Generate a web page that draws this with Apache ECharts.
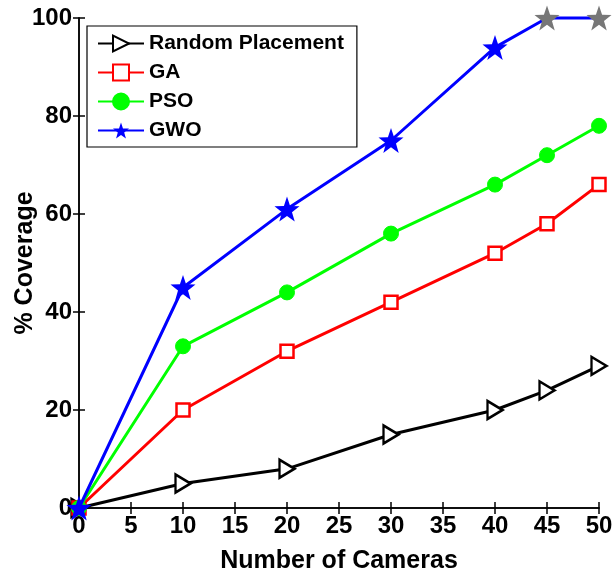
<!DOCTYPE html>
<html><head><meta charset="utf-8">
<script src="https://cdn.jsdelivr.net/npm/echarts@6/dist/echarts.min.js"></script>
<style>html,body{margin:0;padding:0;background:#fff}#c{width:616px;height:578px}</style>
</head><body><div id="c"></div>
<script>
const cameras = [0, 10, 20, 30, 40, 45, 50];
const randomPlacement = [0, 5, 8, 15, 20, 24, 29];
const ga = [0, 20, 32, 42, 52, 58, 66];
const pso = [0, 33, 44, 56, 66, 72, 78];
const gwo = [0, 45, 61, 75, 94, 100, 100];
const xTicks = [0, 5, 10, 15, 20, 25, 30, 35, 40, 45, 50];
const yTicks = [0, 20, 40, 60, 80, 100];

const star = 'path://M0,-10 L2.35,-3.24 L9.51,-3.09 L3.8,1.24 L5.88,8.09 L0,4 L-5.88,8.09 L-3.8,1.24 L-9.51,-3.09 L-2.35,-3.24 Z';
const font = 'Liberation Sans, Arial, sans-serif';
function pts(ys, styleFn) {
  return cameras.map((x, i) => {
    const d = { value: [x, ys[i]] };
    if (styleFn) { const s = styleFn(ys[i], i); if (s) d.itemStyle = s; }
    return d;
  });
}
const chart = echarts.init(document.getElementById('c'));
const axisLine = { show: true, lineStyle: { color: '#000', width: 1.5 } };
const tick = { show: true, inside: true, length: 6, lineStyle: { color: '#000', width: 1.5 } };
chart.setOption({
  animation: false,
  grid: { left: 79, top: 18, right: 17, bottom: 70, outerBoundsMode: 'none', containLabel: false },
  legend: {
    orient: 'vertical', left: 87, top: 26,
    itemWidth: 46, itemHeight: 20, itemGap: 8,
    padding: [7, 13, 6, 10],
    borderColor: '#000', borderWidth: 1.2,
    backgroundColor: '#fff',
    textStyle: { fontFamily: font, fontWeight: 'bold', fontSize: 21, lineHeight: 20, color: '#000' },
    data: ['Random Placement', 'GA', 'PSO', 'GWO']
  },
  xAxis: [{
    type: 'value', min: 0, max: 50, interval: 5,
    name: 'Number of Cameras', nameLocation: 'middle', nameGap: 41,
    nameTextStyle: { fontFamily: font, fontWeight: 'bold', fontSize: 25, color: '#000' },
    axisLine, axisTick: tick,
    axisLabel: { fontFamily: font, fontWeight: 'bold', fontSize: 24, color: '#000', margin: 6,
      formatter: v => xTicks.includes(v) ? String(v) : '' },
    splitLine: { show: false }
  }, {
    type: 'value', min: 0, max: 50, interval: 5, position: 'top',
    axisLine, axisTick: tick,
    axisLabel: { show: false }, splitLine: { show: false }
  }],
  yAxis: [{
    type: 'value', min: 0, max: 100, interval: 20,
    name: '% Coverage', nameLocation: 'middle', nameGap: 41, nameRotate: 90, nameMoveOverlap: false,
    nameTextStyle: { fontFamily: font, fontWeight: 'bold', fontSize: 25, color: '#000' },
    axisLine, axisTick: tick,
    axisLabel: { fontFamily: font, fontWeight: 'bold', fontSize: 24, color: '#000', margin: 7,
      formatter: v => yTicks.includes(v) ? String(v) : '' },
    splitLine: { show: false }
  }, {
    type: 'value', min: 0, max: 100, interval: 20, position: 'right',
    axisLine, axisTick: tick,
    axisLabel: { show: false }, splitLine: { show: false }
  }],
  series: [
    { name: 'Random Placement', type: 'line', data: pts(randomPlacement), clip: false,
      symbol: 'triangle', symbolRotate: -90, symbolSize: [18, 15],
      lineStyle: { color: '#000', width: 3 },
      itemStyle: { color: '#fff', borderColor: '#000', borderWidth: 2.5 }, z: 2 },
    { name: 'GA', type: 'line', data: pts(ga), clip: false,
      symbol: 'rect', symbolSize: 13,
      lineStyle: { color: '#ff0000', width: 3 },
      itemStyle: { color: '#fff', borderColor: '#ff0000', borderWidth: 2.5 }, z: 3 },
    { name: 'PSO', type: 'line', data: pts(pso), clip: false,
      symbol: 'circle', symbolSize: 15,
      lineStyle: { color: '#00ff00', width: 3 },
      itemStyle: { color: '#00ff00', borderColor: '#00ff00', borderWidth: 1 }, z: 4 },
    { name: 'GWO', type: 'line', data: pts(gwo, (y) => y >= 100 ? { color: '#777', borderColor: '#777' } : null), clip: false,
      symbol: star, symbolSize: 25,
      lineStyle: { color: '#0000ff', width: 3 },
      itemStyle: { color: '#0000ff', borderColor: '#0000ff', borderWidth: 0 }, z: 5 }
  ]
});
</script></body></html>
